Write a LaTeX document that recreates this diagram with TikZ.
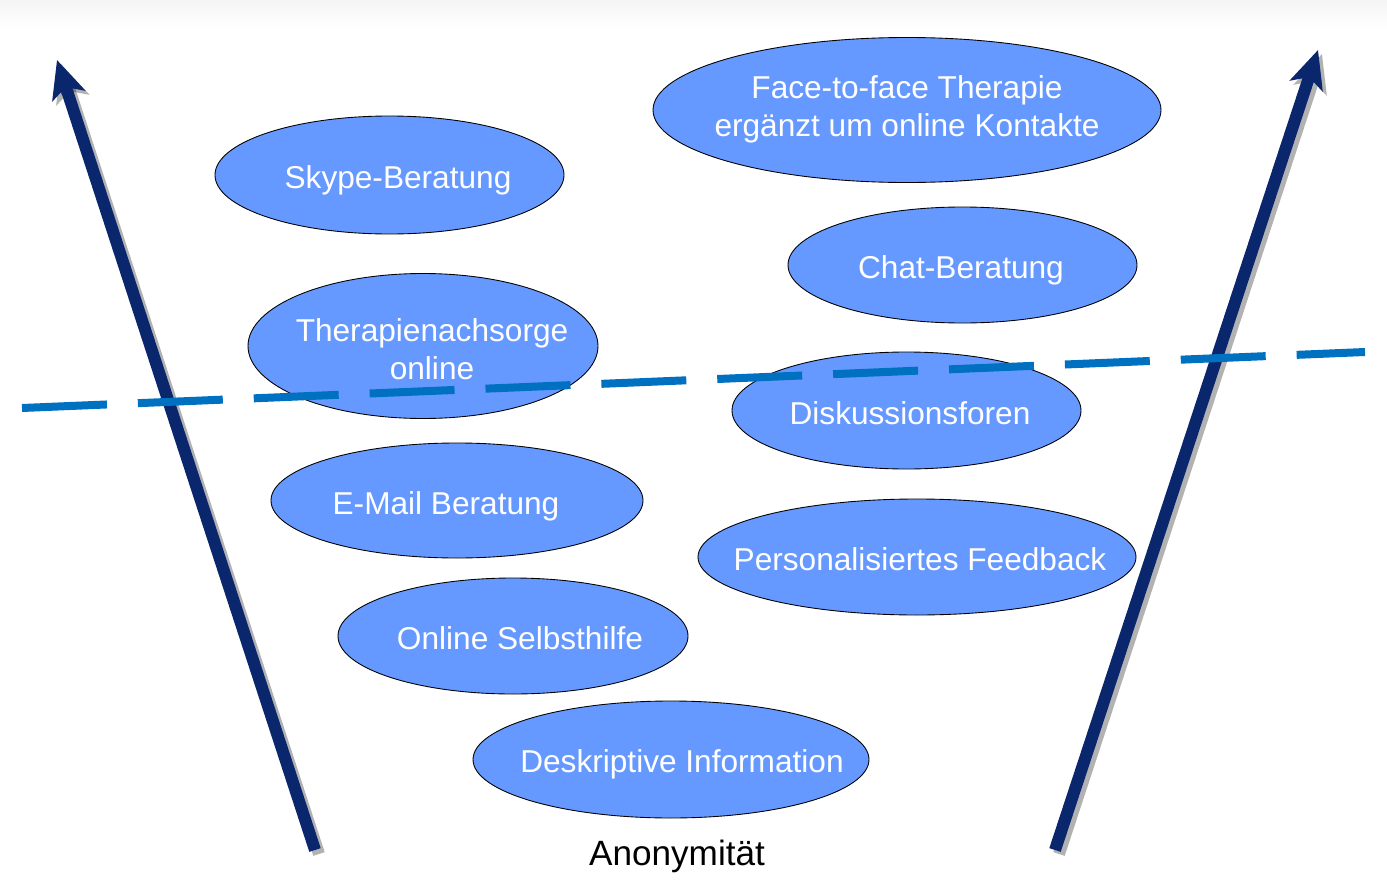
\documentclass[tikz,border=0pt]{standalone}
\usepackage{fontspec}
\setmainfont{Liberation Sans}
\usetikzlibrary{shapes.geometric,arrows.meta}
\definecolor{bubblefill}{RGB}{102,153,255}
\definecolor{navy}{RGB}{10,38,108}
\definecolor{dashblue}{RGB}{0,112,192}
\tikzset{
  bubble/.style={ellipse,draw=black,line width=0.5pt,fill=bubblefill,inner sep=0pt},
  lbl/.style={text=white,font=\fontsize{18pt}{21.5pt}\selectfont,align=center,inner sep=0pt},
  bigarrow/.style={draw=navy,line width=0.24cm,-{Stealth[length=0.75cm,width=0.68cm,inset=0.18cm]}},
  arrowshadow/.style={draw=black,opacity=0.3,line width=0.24cm,-{Stealth[length=0.75cm,width=0.68cm,inset=0.18cm]}},
  divider/.style={draw=dashblue,line width=0.16cm,dash pattern=on 1.7cm off 0.62cm}
}
\begin{document}
\begin{tikzpicture}[x=0.02cm,y=-0.02cm]
\useasboundingbox (0,0) rectangle (1387,889);
\shade[top color=black!4,bottom color=white] (0,0) rectangle (1387,30);
% ellipses
\node[bubble,minimum width=508*0.02cm,minimum height=145*0.02cm] (f) at (907,110) {};
\node[lbl] (ft) at (907,109) {Face-to-face Therapie\\ergänzt um online Kontakte};
\node[bubble,minimum width=349*0.02cm,minimum height=118*0.02cm] (s) at (389.5,175) {};
\node[lbl] (st) at (398,180) {Skype-Beratung};
\node[bubble,minimum width=349*0.02cm,minimum height=116*0.02cm] (c) at (962.5,265) {};
\node[lbl] (ct) at (961,270) {Chat-Beratung};
\node[bubble,minimum width=350*0.02cm,minimum height=145*0.02cm] (t) at (423,346) {};
\node[lbl] (tt) at (432,349) {Therapienachsorge\\online};
\node[bubble,minimum width=349*0.02cm,minimum height=117*0.02cm] (d) at (906.5,410.5) {};
\node[lbl] (dt) at (910,413) {Diskussionsforen};
\node[bubble,minimum width=372*0.02cm,minimum height=115*0.02cm] (e) at (457,500.5) {};
\node[lbl] (et) at (446,506) {E-Mail Beratung};
\node[bubble,minimum width=438*0.02cm,minimum height=116*0.02cm] (p) at (917,557) {};
\node[lbl] (pt) at (920,559) {Personalisiertes Feedback};
\node[bubble,minimum width=350*0.02cm,minimum height=116*0.02cm] (o) at (513,636) {};
\node[lbl] (ot) at (520,638) {Online Selbsthilfe};
\node[bubble,minimum width=396*0.02cm,minimum height=117*0.02cm] (k) at (671,759.5) {};
\node[lbl] (kt) at (682,764) {Deskriptive Information};
% arrows
\coordinate (la) at (315,850);
\coordinate (lb) at (57,60);
\coordinate (ra) at (1055,850);
\coordinate (rb) at (1318,50);
\coordinate (las) at (319,854);
\coordinate (lbs) at (61,64);
\coordinate (ras) at (1059,854);
\coordinate (rbs) at (1322,54);
\draw[arrowshadow] (las) -- (lbs);
\draw[arrowshadow] (ras) -- (rbs);
\draw[bigarrow] (la) -- (lb);
\draw[bigarrow] (ra) -- (rb);
% dashed divider
\coordinate (dl) at (22,408);
\coordinate (dr) at (1365,352);
\draw[divider] (dl) -- (dr);
% axis label
\node[font=\fontsize{20pt}{24pt}\selectfont,inner sep=0pt] (an) at (677,856) {Anonymität};
\end{tikzpicture}
\end{document}
